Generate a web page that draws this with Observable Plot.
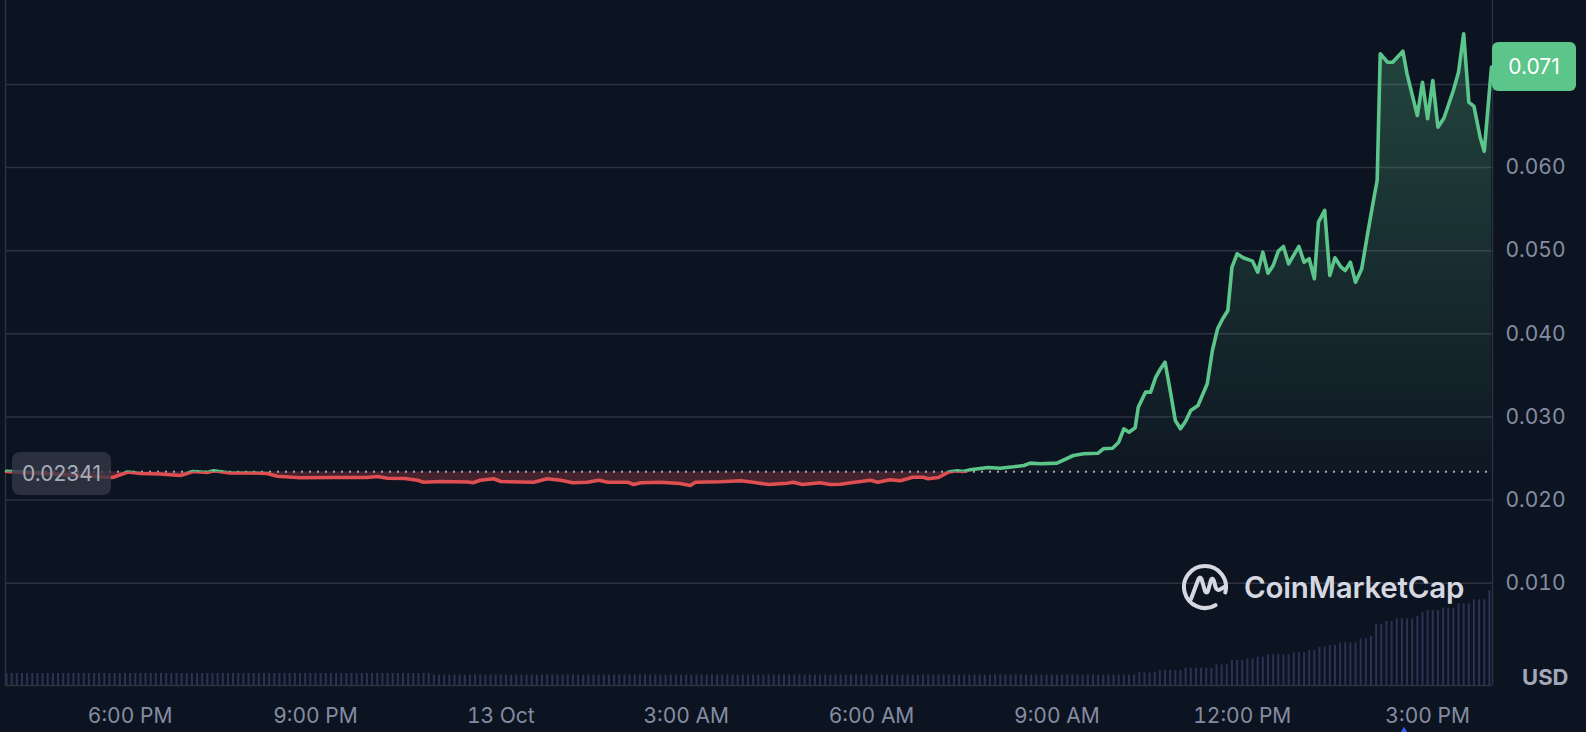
<!DOCTYPE html>
<html><head><meta charset="utf-8">
<script src="https://cdn.jsdelivr.net/npm/d3@7"></script>
<script src="https://cdn.jsdelivr.net/npm/@observablehq/plot@0.6"></script>
<style>
html,body{margin:0;padding:0;background:#0d1421;}
#chart{position:relative;width:1586px;height:732px;overflow:hidden;background:#0d1421;font-family:Inter,sans-serif;}
#chart svg{position:absolute;left:0;top:0;}
.pbox{position:absolute;display:flex;align-items:center;justify-content:center;box-sizing:border-box;font-family:Inter,sans-serif;font-size:21px;}
#wm{position:absolute;left:1180px;top:562px;display:flex;align-items:center;color:#d5d8e1;font-family:Inter,sans-serif;font-weight:600;font-size:29.5px;letter-spacing:-0.2px;}
</style></head><body><div id="chart"></div>
<script>
// ---- data ----
const priceTimes = [
"12 16:00","12 17:43","12 17:58","12 18:10","12 18:29","12 18:49","12 19:01","12 19:15","12 19:21","12 19:37",
"12 19:57","12 20:13","12 20:23","12 20:45","12 21:17","12 21:50","12 22:00","12 22:10","12 22:27","12 22:39",
"12 22:45","12 23:01","12 23:28","12 23:33","12 23:40","12 23:53","13 00:00","13 00:19","13 00:32","13 00:45",
"13 00:58","13 01:10","13 01:24","13 01:35","13 01:44","13 02:03","13 02:09","13 02:16","13 02:35","13 02:54",
"13 03:04","13 03:09","13 03:33","13 03:53","13 04:05","13 04:20","13 04:38","13 04:44","13 04:53","13 05:10",
"13 05:20","13 05:30","13 05:40","13 05:59","13 06:06","13 06:18","13 06:28","13 06:40","13 06:50","13 06:55",
"13 07:05","13 07:15","13 07:23","13 07:29","13 07:36","13 07:53","13 08:05","13 08:18","13 08:28","13 08:34",
"13 08:44","13 09:00","13 09:16","13 09:26","13 09:40","13 09:45","13 09:54","13 10:00","13 10:05","13 10:10",
"13 10:16","13 10:19","13 10:26","13 10:31","13 10:36","13 10:41","13 10:45","13 10:50","13 10:55","13 11:00",
"13 11:05","13 11:10","13 11:17","13 11:26","13 11:31","13 11:36","13 11:41","13 11:46","13 11:50","13 11:55",
"13 12:01","13 12:10","13 12:15","13 12:20","13 12:25","13 12:30","13 12:35","13 12:40","13 12:45","13 12:55",
"13 13:00","13 13:05","13 13:10","13 13:14","13 13:20","13 13:25","13 13:30","13 13:36","13 13:40","13 13:45",
"13 13:50","13 13:56","13 14:02","13 14:08","13 14:11","13 14:14","13 14:21","13 14:26","13 14:36","13 14:40",
"13 14:50","13 14:55","13 15:00","13 15:05","13 15:10","13 15:16","13 15:25","13 15:30","13 15:35","13 15:40",
"13 15:45","13 15:51","13 15:55","13 16:02"];
const prices = [
0.02345,0.02271,0.02338,0.02320,0.02314,0.02296,0.02344,0.02332,0.02352,0.02326,
0.02326,0.02320,0.02287,0.02268,0.02271,0.02271,0.02284,0.02263,0.02259,0.02239,
0.02215,0.02223,0.02217,0.02208,0.02239,0.02256,0.02223,0.02217,0.02215,0.02256,
0.02239,0.02208,0.02215,0.02239,0.02215,0.02215,0.02187,0.02208,0.02215,0.02199,
0.02175,0.02215,0.02220,0.02232,0.02215,0.02187,0.02203,0.02215,0.02187,0.02208,
0.02187,0.02191,0.02208,0.02239,0.02215,0.02244,0.02232,0.02275,0.02275,0.02256,
0.02271,0.02338,0.02352,0.02344,0.02364,0.02392,0.02383,0.02400,0.02416,0.02444,
0.02436,0.02444,0.02536,0.02557,0.02564,0.02617,0.02624,0.02696,0.02857,0.02816,
0.02869,0.03117,0.03298,0.03298,0.03478,0.03586,0.03659,0.03318,0.02957,0.02857,
0.02949,0.03078,0.03138,0.03399,0.03799,0.04060,0.04181,0.04281,0.04802,0.04963,
0.04915,0.04874,0.04741,0.04982,0.04729,0.04822,0.04994,0.05051,0.04842,0.05051,
0.04862,0.04903,0.04662,0.05343,0.05484,0.04702,0.04915,0.04802,0.04762,0.04862,
0.04621,0.04782,0.05223,0.05644,0.05845,0.07369,0.07268,0.07268,0.07400,0.07128,
0.06627,0.07027,0.06587,0.07048,0.06486,0.06599,0.06927,0.07148,0.07610,0.06787,
0.06735,0.06366,0.06197,0.07208];
const basePrice = 0.02341;
const basePriceLabel = "0.02341";
const lastPriceLabel = "0.071";

// 24h volume bars, one every 5 minutes from 12 Oct 16:00 (relative units)
const volumeStart = "12 16:00";
const volumeStepMinutes = 5;
const volume = [
12,12,12,12,12,12,12,12,12,12,12,12,
12,12,12,12,12,12,12,12,12,12,12,12,
12,12,12,12,12,12,12,12,12,12,12,12,
12,12,12,12,12,12,12,12,12,12,12,12,
12,12,12,12,12,12,12,12,12,12,12,12,
12,12,12,12,12,12,12,12,12,12,12,12,
12,12,12,12,12,12,12,12,12,12,12,10.5,
10.5,10.5,10.5,10.5,10.5,10.5,10.5,10.5,10.5,10.5,10.5,10.5,
10.5,10.5,10.5,10.5,10.5,10.5,10.5,10.5,10.5,10.5,10.5,10.5,
10.5,10.5,10.5,10.5,10.5,10.5,10.5,10.5,10.5,10.5,10.5,10.5,
10.5,10.5,10.5,10.5,10.5,10.5,10.5,10.5,10.5,10.5,10.5,10.5,
10.5,10.5,10.5,10.5,10.5,10.5,10.5,10.5,10.5,10.5,10.5,10.5,
10.5,10.5,10.5,10.5,10.5,10.5,10.5,10.5,10.5,10.5,10.5,10.5,
10.5,10.5,10.5,10.5,10.5,10.5,10.5,10.5,10.5,10.5,10.5,10.5,
10.5,10.5,10.5,10.5,10.5,10.5,10.5,10.5,10.5,10.5,10.5,10.5,
10.5,10.5,10.5,10.5,10.5,10.5,10.5,10.5,10.5,10.5,10.5,10.5,
10.5,10.5,10.5,10.5,10.5,10.5,10.5,10.5,10.5,10.5,10.5,10.5,
10.5,10.5,10.5,10.5,10.5,10.5,10.5,10.5,10.5,10.5,10.5,10.5,
10.5,10.5,10.5,10.5,12.7,12.7,12.7,12.7,15,15,15,15,
15,17.3,17.3,17.3,17.3,17.3,17.3,20.7,20.7,20.7,25,25,
25,26.7,26.7,28.3,28.3,30.7,30.7,30.7,30.7,30.7,32.7,32.7,
32.7,35,35,38.3,38.3,40,40,42.7,42.7,42.7,42.7,46.7,
46.7,49,61,61,64,64,66.7,66.7,66.7,66.7,69,73,
75,75,75,77.3,77.3,77.3,81.7,81.7,81.7,85.7,85.7,85.7,
95];

const xDomain = ["12 15:59", "13 16:03"];
const xTicks = ["12 18:00","12 21:00","13 00:00","13 03:00","13 06:00","13 09:00","13 12:00","13 15:00"];
const xTickLabels = ["6:00 PM","9:00 PM","13 Oct","3:00 AM","6:00 AM","9:00 AM","12:00 PM","3:00 PM"];
const yDomain = [-0.00231, 0.0801];
const yGrid = [0.01,0.02,0.03,0.04,0.05,0.06,0.07];
// the 0.070 label sits under the current-price tag in the reference, so only these are shown
const yTicks = [0.01,0.02,0.03,0.04,0.05,0.06];
const yTickLabels = ["0.010","0.020","0.030","0.040","0.050","0.060"];
const eventTimes = ["13 14:37"];
const currencyLabel = "USD";
const watermarkText = "CoinMarketCap";

// ---- build ----
const parseT = s => d3.timeParse("%Y-%m-%d %H:%M")("2023-10-" + s);
const series = priceTimes.map((t, i) => ({t: parseT(t), p: prices[i]}));
const t0 = parseT(volumeStart);
const volData = volume.map((v, i) => ({t: d3.timeMinute.offset(t0, i * volumeStepMinutes), v}));
const xTickDates = xTicks.map(parseT);
const xLabelMap = new Map(xTickDates.map((d, i) => [+d, xTickLabels[i]]));
const yLabelMap = new Map(yTicks.map((d, i) => [d, yTickLabels[i]]));
const events = eventTimes.map(s => ({t: parseT(s)}));

const W = 1586, H = 732, ML = 5, MR = 94, MB = 47;
const GREEN = "#5bc58a", RED = "#df4f51", GRID = "#2e3240";

const vol = Plot.plot({
  width: W, height: H, marginLeft: ML, marginRight: MR, marginBottom: MB, marginTop: H - MB - 100,
  style: {background: "transparent"},
  x: {type: "time", domain: xDomain.map(parseT), axis: null},
  y: {domain: [0, 100], axis: null},
  marks: [
    Plot.ruleX(volData, {x: "t", y1: 0, y2: "v", stroke: "#2d3254", strokeWidth: 2})
  ]
});

const main = Plot.plot({
  width: W, height: H, marginLeft: ML, marginRight: MR, marginBottom: MB, marginTop: 0,
  style: {background: "transparent", fontFamily: "Inter, sans-serif", fontSize: "21px", color: "#858ca2"},
  x: {type: "time", domain: xDomain.map(parseT), label: null},
  y: {domain: yDomain, label: null},
  marks: [
    Plot.gridY(yGrid, {stroke: GRID, strokeOpacity: 1, strokeWidth: 1.4}),
    Plot.ruleY([yDomain[0]], {stroke: GRID, strokeWidth: 1.4}),
    Plot.ruleX(xDomain.map(parseT), {stroke: GRID, strokeWidth: 1.4}),
    Plot.areaY(series, {x: "t", y1: basePrice, y2: "p", fill: "url(#gUp)", ariaDescription: "up-area"}),
    Plot.areaY(series, {x: "t", y1: basePrice, y2: "p", fill: RED, fillOpacity: 0.26, ariaDescription: "down-area"}),
    Plot.ruleY([basePrice], {stroke: "#a3a8b3", strokeWidth: 2, strokeDasharray: "2,6"}),
    Plot.line(series, {x: "t", y: "p", stroke: GREEN, strokeWidth: 3.6, strokeLinejoin: "round", ariaDescription: "up-line"}),
    Plot.line(series, {x: "t", y: "p", stroke: RED, strokeWidth: 3.6, strokeLinejoin: "round", ariaDescription: "down-line"}),
    Plot.axisY(yTicks, {anchor: "right", tickSize: 0, tickPadding: 13, label: null, tickFormat: d => yLabelMap.get(d)}),
    Plot.axisX(xTickDates, {anchor: "bottom", tickSize: 0, tickPadding: 23, label: null, tickFormat: d => xLabelMap.get(+d)}),
    Plot.text([currencyLabel], {frameAnchor: "bottom-right", dx: 76, dy: -8, textAnchor: "end", lineAnchor: "middle", fill: "#a3a8b8", fontWeight: 700, fontSize: 22}),
    Plot.dot(events, {x: "t", frameAnchor: "bottom", dy: 49, symbol: "triangle", r: 5, fill: "#3861fb"})
  ]
});

const chart = document.getElementById("chart");
chart.appendChild(vol);
chart.appendChild(main);

// gradient + clip paths positioned through the plot's own y scale
const yS = main.scale("y");
const yb = yS.apply(basePrice);
const ns = "http://www.w3.org/2000/svg";
const defs = document.createElementNS(ns, "defs");
defs.innerHTML =
  `<clipPath id="clipUp"><rect x="0" y="-10" width="${W}" height="${yb + 10}"/></clipPath>` +
  `<clipPath id="clipDown"><rect x="0" y="${yb}" width="${W}" height="${H - yb}"/></clipPath>` +
  `<linearGradient id="gUp" gradientUnits="userSpaceOnUse" x1="0" x2="0" y1="${yS.apply(d3.max(prices))}" y2="${yb}">` +
  `<stop offset="0" stop-color="${GREEN}" stop-opacity="0.28"/><stop offset="1" stop-color="${GREEN}" stop-opacity="0.02"/></linearGradient>`;
main.insertBefore(defs, main.firstChild);
const setClip = (desc, id) => main.querySelectorAll(`[aria-description="${desc}"]`).forEach(g => g.setAttribute("clip-path", `url(#${id})`));
setClip("up-area", "clipUp"); setClip("up-line", "clipUp");
setClip("down-area", "clipDown"); setClip("down-line", "clipDown");

// price tags
const xS = main.scale("x");
const leftTag = document.createElement("div");
leftTag.className = "pbox";
Object.assign(leftTag.style, {left: "12px", width: "99px", height: "43px", top: (yb + 2.5 - 21.5) + "px",
  background: "rgba(52,56,70,0.78)", color: "#a7adba", borderRadius: "8px"});
leftTag.textContent = basePriceLabel;
chart.appendChild(leftTag);

const last = series[series.length - 1];
const rightTag = document.createElement("div");
rightTag.className = "pbox";
Object.assign(rightTag.style, {left: (xS.apply(xDomain.map(parseT)[1])) + "px", width: "84px", height: "49px",
  top: (yS.apply(last.p) - 24.5) + "px", background: GREEN, color: "#ffffff", borderRadius: "6px"});
rightTag.textContent = lastPriceLabel;
chart.appendChild(rightTag);

// watermark
const wm = document.createElement("div");
wm.id = "wm";
wm.innerHTML = `<svg width="50" height="50" viewBox="-25 -25 50 50" style="position:static;margin-right:14px">
<path d="M20.3 5.4 A21 21 0 1 0 10.5 18.2" fill="none" stroke="#d5d8e1" stroke-width="4" stroke-linecap="round"/>
<path d="M-14 12 L-6.5 -8 Q-5 -11 -3.5 -8 L0 4 Q1.5 7 3 4 L6 -7 Q7.5 -10 9 -6 L10.5 0 Q12 4 15 2.5 L21 -1" fill="none" stroke="#d5d8e1" stroke-width="4" stroke-linecap="round" stroke-linejoin="round"/>
</svg><span>${watermarkText}</span>`;
chart.appendChild(wm);
</script>
</body></html>
